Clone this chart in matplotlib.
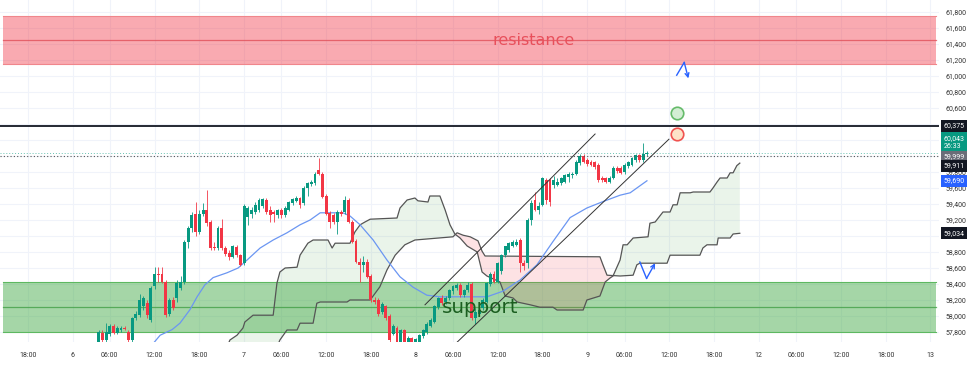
import matplotlib
matplotlib.use("Agg")
import matplotlib.pyplot as plt
import matplotlib.transforms as mtransforms
from matplotlib.patches import Rectangle
import numpy as np

# ---------------- data ----------------
first_bar = 7  # bar index of first visible candle (30-minute bars, day "6" starts at index 0)

opens = [57.64, 57.79, 57.70, 57.78, 57.87, 57.79, 57.82, 57.85, 57.80, 57.70,
         57.97, 58.01, 58.12, 58.16, 57.95, 58.37, 58.53, 58.53, 58.42, 58.02,
         58.20, 58.22, 58.35, 58.42, 58.92, 59.10, 59.27, 59.05, 59.28, 59.32,
         59.18, 58.86, 58.85, 59.10, 58.85, 58.79, 58.74, 58.86, 58.76, 58.66,
         59.24, 59.27, 59.30, 59.33, 59.37, 59.45, 59.32, 59.30, 59.26, 59.32,
         59.26, 59.33, 59.41, 59.44, 59.47, 59.41, 59.60, 59.65, 59.66, 59.83,
         59.78, 59.50, 59.29, 59.26, 59.18, 59.30, 59.30, 59.45, 59.18, 58.94,
         58.68, 58.64, 58.68, 58.50, 58.20, 58.20, 58.05, 58.12, 58.00, 57.78,
         57.85, 57.68, 57.82, 57.68, 57.72, 57.68, 57.67, 57.75, 57.80, 57.88,
         57.93, 58.11, 58.23, 58.18, 58.22, 58.31, 58.35, 58.39, 58.26, 58.32,
         58.40, 57.97, 58.03, 58.10, 58.18, 58.40, 58.53, 58.43, 58.56, 58.76,
         58.82, 58.88, 58.89, 58.95, 58.66, 58.66, 59.20, 59.45, 59.33, 59.39,
         59.70, 59.70, 59.64, 59.64, 59.66, 59.68, 59.74, 59.76, 59.78, 59.91,
         60.00, 59.95, 59.93, 59.92, 59.89, 59.73, 59.72, 59.68, 59.73, 59.85,
         59.85, 59.80, 59.87, 59.89, 59.95, 60.01, 59.95, 60.02]
highs = [57.82, 57.82, 57.91, 57.90, 57.90, 57.88, 57.87, 57.88, 57.82, 57.99,
         58.06, 58.28, 58.25, 58.20, 58.38, 58.61, 58.61, 58.61, 58.45, 58.23,
         58.24, 58.45, 58.50, 58.95, 59.12, 59.30, 59.42, 59.33, 59.41, 59.57,
         59.20, 58.92, 59.12, 59.21, 58.88, 58.82, 58.89, 58.89, 58.78, 59.40,
         59.37, 59.36, 59.42, 59.47, 59.48, 59.48, 59.38, 59.33, 59.34, 59.35,
         59.37, 59.44, 59.48, 59.50, 59.49, 59.62, 59.68, 59.70, 59.80, 59.97,
         59.80, 59.52, 59.31, 59.29, 59.32, 59.33, 59.50, 59.47, 59.20, 58.96,
         58.72, 58.75, 58.71, 58.52, 58.24, 58.22, 58.18, 58.14, 58.02, 57.90,
         57.87, 57.84, 57.84, 57.75, 57.74, 57.73, 57.78, 57.84, 57.92, 57.97,
         58.14, 58.24, 58.26, 58.25, 58.34, 58.39, 58.41, 58.41, 58.34, 58.42,
         58.42, 58.10, 58.12, 58.22, 58.43, 58.55, 58.56, 58.68, 58.78, 58.88,
         58.93, 58.95, 58.96, 58.98, 58.70, 59.22, 59.45, 59.55, 59.42, 59.74,
         59.73, 59.72, 59.75, 59.72, 59.74, 59.78, 59.80, 59.80, 59.95, 60.02,
         60.02, 59.97, 59.95, 59.94, 59.91, 59.75, 59.74, 59.75, 59.87, 59.87,
         59.87, 59.91, 59.94, 59.99, 60.03, 60.03, 60.16, 60.06]
lows = [57.60, 57.64, 57.68, 57.75, 57.77, 57.77, 57.80, 57.82, 57.68, 57.68,
        57.95, 57.99, 58.08, 57.97, 57.93, 58.34, 58.43, 58.41, 57.99, 58.00,
        58.07, 58.18, 58.33, 58.40, 58.85, 59.05, 59.00, 59.02, 59.25, 59.13,
        58.83, 58.82, 58.83, 58.83, 58.75, 58.70, 58.72, 58.74, 58.62, 58.64,
        59.14, 59.22, 59.28, 59.30, 59.35, 59.28, 59.18, 59.17, 59.22, 59.22,
        59.24, 59.31, 59.39, 59.42, 59.35, 59.39, 59.50, 59.62, 59.64, 59.76,
        59.47, 59.26, 59.10, 59.15, 59.03, 59.25, 59.28, 59.16, 58.91, 58.66,
        58.43, 58.55, 58.47, 58.18, 58.15, 58.00, 58.03, 57.95, 57.62, 57.76,
        57.64, 57.66, 57.60, 57.64, 57.65, 57.65, 57.65, 57.73, 57.78, 57.86,
        57.91, 58.09, 58.14, 58.15, 58.20, 58.28, 58.33, 58.24, 58.24, 58.30,
        57.95, 57.90, 58.00, 58.07, 58.16, 58.38, 58.41, 58.41, 58.53, 58.74,
        58.80, 58.86, 58.87, 58.55, 58.58, 58.60, 59.14, 59.31, 59.28, 59.37,
        59.40, 59.38, 59.60, 59.62, 59.64, 59.66, 59.68, 59.72, 59.76, 59.89,
        59.91, 59.88, 59.87, 59.84, 59.68, 59.68, 59.66, 59.66, 59.71, 59.79,
        59.77, 59.78, 59.85, 59.87, 59.93, 59.93, 59.93, 60.00]
closes = [57.80, 57.70, 57.80, 57.87, 57.79, 57.85, 57.85, 57.84, 57.70, 57.97,
          58.03, 58.20, 58.22, 58.01, 58.35, 58.53, 58.51, 58.43, 58.01, 58.20,
          58.10, 58.41, 58.42, 58.93, 59.10, 59.26, 59.05, 59.28, 59.32, 59.16,
          58.85, 58.85, 59.10, 58.85, 58.78, 58.74, 58.87, 58.76, 58.64, 59.37,
          59.35, 59.33, 59.39, 59.45, 59.46, 59.30, 59.26, 59.27, 59.32, 59.26,
          59.35, 59.42, 59.46, 59.47, 59.39, 59.60, 59.66, 59.68, 59.78, 59.78,
          59.49, 59.28, 59.18, 59.18, 59.30, 59.28, 59.45, 59.18, 58.93, 58.68,
          58.64, 58.68, 58.49, 58.20, 58.18, 58.03, 58.15, 57.97, 57.70, 57.88,
          57.68, 57.82, 57.66, 57.73, 57.68, 57.71, 57.76, 57.82, 57.90, 57.95,
          58.12, 58.22, 58.16, 58.23, 58.32, 58.37, 58.39, 58.26, 58.32, 58.39,
          57.97, 58.05, 58.08, 58.20, 58.41, 58.53, 58.43, 58.66, 58.76, 58.87,
          58.91, 58.93, 58.93, 58.66, 58.62, 59.20, 59.41, 59.33, 59.38, 59.72,
          59.45, 59.42, 59.70, 59.68, 59.72, 59.76, 59.78, 59.78, 59.93, 60.00,
          59.93, 59.90, 59.89, 59.86, 59.70, 59.70, 59.68, 59.73, 59.85, 59.81,
          59.79, 59.89, 59.92, 59.97, 60.01, 59.95, 60.03, 60.04]

# moving average (blue)
ma_x = [20.8, 23.5, 26.7, 28.8, 31.5, 33.4, 35.5, 37.7, 41.4, 44.4, 46.8, 50.3, 53.8,
        57.5, 61.0, 63.7, 66.4, 72.5, 74.4, 77.1, 80.6, 84.3, 87.8, 91.3, 95.0, 98.5,
        103.9, 111.1, 115.4, 120.0, 124.5, 128.8, 133.4, 137.9, 142.2, 146.8, 149.5, 154.0]
ma_y = [57.61, 57.76, 57.83, 57.91, 58.08, 58.24, 58.39, 58.48, 58.54, 58.60, 58.70, 58.85, 58.95,
        59.04, 59.14, 59.20, 59.29, 59.29, 59.25, 59.14, 58.95, 58.70, 58.49, 58.36, 58.26, 58.24,
        58.24, 58.24, 58.31, 58.45, 58.64, 58.93, 59.23, 59.35, 59.43, 59.51, 59.54, 59.69]

# cloud lines
span_a_x = [41.4, 42.2, 44.1, 45.7, 46.2, 48.4, 53.8, 54.8, 55.6, 57.0, 60.2, 61.0, 63.1, 64.5,
            68.5, 69.6, 70.4, 74.4, 75.7, 77.1, 78.4, 79.8, 87.0, 87.8, 89.7, 91.8, 92.6, 95.3,
            95.8, 98.5, 99.9, 101.2, 102.5, 103.9, 105.8, 108.5, 109.8, 111.1, 114.6, 116.0,
            118.1, 119.2, 122.7, 125.3, 128.8, 129.9, 136.9, 137.9, 141.4, 142.8, 144.1, 144.9,
            146.8, 147.6, 148.7, 150.3, 154.3, 154.8, 156.2, 158.3, 160.2, 161.0, 162.1, 162.9,
            165.6, 166.4, 170.9, 171.7, 172.8, 173.6, 175.5, 176.3, 177.1, 178.1, 178.9]
span_a_y = [57.61, 57.70, 57.76, 57.85, 57.925, 58.01, 58.01, 58.41, 58.55, 58.60, 58.61, 58.76,
            58.91, 58.95, 58.95, 58.85, 58.91, 58.91, 59.05, 59.14, 59.175, 59.21, 59.225, 59.35,
            59.45, 59.475, 59.44, 59.425, 59.50, 59.50, 59.325, 59.14, 59.025, 58.975, 58.875,
            58.80, 58.55, 58.50, 58.425, 58.25, 58.225, 58.175, 58.14, 58.11, 58.11, 58.075,
            58.075, 58.20, 58.25, 58.425, 58.475, 58.50, 58.70, 58.89, 58.89, 58.975, 58.99,
            59.16, 59.175, 59.30, 59.30, 59.39, 59.39, 59.54, 59.54, 59.55, 59.55, 59.60,
            59.675, 59.725, 59.725, 59.79, 59.79, 59.88, 59.911]
span_b_x = [41.0, 54.8, 55.6, 57.5, 60.2, 61.0, 64.5, 65.5, 66.4, 73.6, 74.4, 79.8, 82.4, 84.3,
            86.5, 89.1, 91.8, 102.0, 103.1, 104.7, 106.6, 108.7, 109.8, 110.6, 141.4, 142.2,
            143.3, 146.8, 150.3, 151.3, 152.1, 159.4, 160.2, 168.2, 169.0, 170.1, 172.8, 173.1,
            176.3, 177.1, 178.9]
span_b_y = [57.40, 57.61, 57.70, 57.825, 57.825, 57.91, 57.91, 58.16, 58.175, 58.175, 58.20,
            58.20, 58.365, 58.575, 58.76, 58.89, 58.95, 58.99, 59.04, 59.01, 58.99, 58.94,
            58.81, 58.75, 58.74, 58.64, 58.51, 58.50, 58.51, 58.64, 58.66, 58.66, 58.76,
            58.76, 58.85, 58.89, 58.89, 58.975, 58.975, 59.025, 59.034]

# drawings
resistance_zone = (61.15, 61.75)
resistance_mid = 61.45
support_zone = (57.80, 58.425)
support_mid = 58.11
level_line = 60.375
channel_upper = ([94.5, 140.1], [58.14, 60.275])
channel_lower = ([101.7, 159.9], [57.61, 60.21])
circle_green = (162.0, 60.54)
circle_red = (162.0, 60.275)
zigzag_up = ([161.98, 164.0, 165.1], [61.01, 61.17, 60.97])
zigzag_low = ([152.1, 153.9, 156.2], [58.675, 58.47, 58.66])
last_price = 60.043
mark_price = 59.999

# axes ticks
time_ticks = [-12, 0, 10, 22, 34, 46, 56, 68, 80, 92, 102, 114, 126, 138, 148, 160, 172,
              184, 194, 206, 218, 230]
time_labels = ['18:00', '6', '06:00', '12:00', '18:00', '7', '06:00', '12:00', '18:00', '8',
               '06:00', '12:00', '18:00', '9', '06:00', '12:00', '18:00', '12', '06:00',
               '12:00', '18:00', '13']
price_ticks = [57.8, 58.0, 58.2, 58.4, 58.6, 58.8, 59.0, 59.2, 59.4, 59.6, 59.8, 60.0,
               60.2, 60.4, 60.6, 60.8, 61.0, 61.2, 61.4, 61.6, 61.8]
price_labels = ['57,800', '58,000', '58,200', '58,400', '58,600', '58,800', '', '59,200',
                '59,400', '59,600', '59,800', '', '', '', '60,600', '60,800', '61,000',
                '61,200', '61,400', '61,600', '61,800']

# right-side value badges: (price position, text, background)
badges = [(60.375, '60,375', '#131722'),
          (60.17, '60,043\n26:33', '#089981'),
          (59.99, '59,999', '#6a6d78'),
          (59.875, '59,911', '#131722'),
          (59.69, '59,690', '#2962ff'),
          (59.034, '59,034', '#131722')]

# ---------------- figure ----------------
W, H = 974, 366
fig = plt.figure(figsize=(W / 100, H / 100), dpi=100)
fig.patch.set_facecolor('white')
ax = fig.add_axes([0.0, 24 / H, 939 / W, 342 / H])
ax.set_xlim(-19.44, 232.3)
ax.set_ylim(57.675, 61.95)
for s in ax.spines.values():
    s.set_visible(False)

ax.set_xticks(time_ticks)
ax.set_xticklabels(time_labels, fontsize=5, color='#333333', family=['Roboto', 'DejaVu Sans'])
ax.set_yticks(price_ticks)
ax.set_yticklabels(price_labels, fontsize=5, color='#333333', family=['Roboto', 'DejaVu Sans'])
ax.yaxis.tick_right()
ax.tick_params(axis='both', length=0)
ax.tick_params(axis='x', pad=7)
ax.tick_params(axis='y', pad=5)
ax.grid(True, color='#f0f3fa', linewidth=0.8, zorder=0)
ax.set_axisbelow(True)

# zones
zx0, zx1 = -18.6, 231.6
ax.add_patch(Rectangle((zx0, resistance_zone[0]), zx1 - zx0, resistance_zone[1] - resistance_zone[0],
                       facecolor='#f23645', alpha=0.42, edgecolor='none', zorder=1))
ax.plot([zx0, zx1], [resistance_zone[0]] * 2, color='#f0868c', lw=0.8, zorder=1.1)
ax.plot([zx0, zx1], [resistance_zone[1]] * 2, color='#f0868c', lw=0.8, zorder=1.1)
ax.plot([zx0, zx1], [resistance_mid] * 2, color='#e0505a', lw=0.9, alpha=0.8, zorder=1.1)
ax.add_patch(Rectangle((zx0, support_zone[0]), zx1 - zx0, support_zone[1] - support_zone[0],
                       facecolor='#4caf50', alpha=0.5, edgecolor='none', zorder=1))
ax.plot([zx0, zx1], [support_zone[0]] * 2, color='#5db861', lw=0.8, zorder=1.1)
ax.plot([zx0, zx1], [support_zone[1]] * 2, color='#5db861', lw=0.8, zorder=1.1)
ax.plot([zx0, zx1], [support_mid] * 2, color='#43a047', lw=0.9, alpha=0.8, zorder=1.1)

# cloud
grid = np.union1d(span_a_x, span_b_x)
grid = grid[(grid >= span_a_x[0]) & (grid <= span_a_x[-1])]
ga = np.interp(grid, span_a_x, span_a_y)
gb = np.interp(grid, span_b_x, span_b_y)
ax.fill_between(grid, ga, gb, where=ga >= gb, interpolate=True, color='#43a047', alpha=0.11,
                linewidth=0, zorder=1.5)
ax.fill_between(grid, ga, gb, where=ga < gb, interpolate=True, color='#f23645', alpha=0.14,
                linewidth=0, zorder=1.5)
ax.plot(span_a_x, span_a_y, color='#555555', lw=0.9, zorder=2)
ax.plot(span_b_x, span_b_y, color='#555555', lw=0.9, zorder=2)

# moving average
ax.plot(ma_x, ma_y, color='#6b96f2', lw=0.9, zorder=2.5)

# candles
n = len(closes)
xs = np.arange(first_bar, first_bar + n)
o = np.array(opens); c = np.array(closes); h = np.array(highs); l = np.array(lows)
up = c >= o
cols = np.where(up, '#089981', '#f23645')
ax.vlines(xs, l, h, colors=cols, lw=0.7, alpha=0.85, zorder=3)
bottoms = np.minimum(o, c)
heights = np.maximum(np.abs(c - o), 0.012)
ax.bar(xs, heights, bottom=bottoms, width=0.78, color=cols, edgecolor='none', zorder=3.1)

# lines
ax.axhline(level_line, color='#131722', lw=1.3, zorder=3.5)
ax.axhline(last_price, color='#089981', lw=0.7, ls=(0, (1, 2)), alpha=0.6, zorder=3.4)
ax.axhline(mark_price, color='#555555', lw=0.8, ls=(0, (1, 2)), zorder=3.4)
ax.plot(*channel_upper, color='#333333', lw=0.7, zorder=3.6)
ax.plot(*channel_lower, color='#333333', lw=0.7, zorder=3.6)

# circles
ax.plot([circle_green[0]], [circle_green[1]], 'o', ms=9, mfc='#d4eed4', mec='#66bb6a', mew=1.2, zorder=4)
ax.plot([circle_red[0]], [circle_red[1]], 'o', ms=9, mfc='#fde3c8', mec='#f0524f', mew=1.2, zorder=4)

# zigzag arrows
for zx, zy in (zigzag_up, zigzag_low):
    ax.plot(zx[:2], zy[:2], color='#2962ff', lw=1.0, zorder=4)
    ax.annotate('', xy=(zx[2], zy[2]), xytext=(zx[1], zy[1]),
                arrowprops=dict(arrowstyle='->', color='#2962ff', lw=1.0,
                                mutation_scale=7, shrinkA=0, shrinkB=0), zorder=4)

# zone texts
ax.text(123.5, 61.39, 'resistance', color='#e8505b', fontsize=11.5, ha='center',
        va='baseline', zorder=4.5)
ax.text(109.3, 58.04, 'support', color='#1b5e20', fontsize=14.3, ha='center',
        va='baseline', zorder=4.5)

# badges
trans = mtransforms.blended_transform_factory(ax.transAxes, ax.transData)
for yv, txt, bg in badges:
    ax.text(1.0045, yv, txt, transform=trans, fontsize=5, color='white', ha='left',
            va='center', family=['Roboto', 'DejaVu Sans'], linespacing=1.3,
            bbox=dict(boxstyle='square,pad=0.35', facecolor=bg, edgecolor='none'),
            zorder=10, clip_on=False)

fig.savefig('out.png', dpi=100, facecolor='white')
